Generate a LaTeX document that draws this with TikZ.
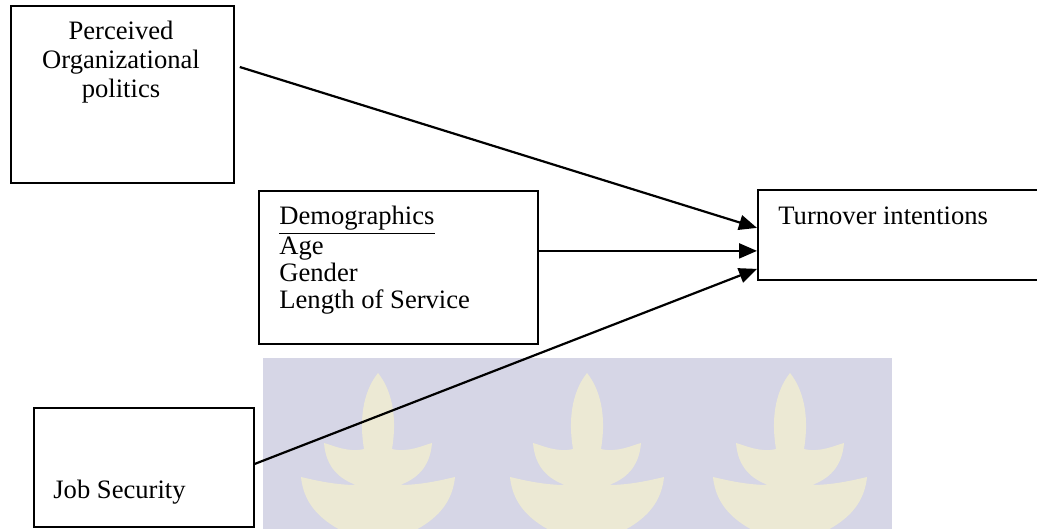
\documentclass[tikz,border=0pt]{standalone}
\usepackage{fontspec}
\setmainfont{Liberation Serif}
\usetikzlibrary{arrows.meta}
\definecolor{wmback}{RGB}{214,214,230}
\definecolor{wmleaf}{RGB}{236,233,212}
\begin{document}
\begin{tikzpicture}[x=0.5pt,y=-0.5pt,
  box/.style={draw, line width=0.9pt, inner sep=0, anchor=north west},
  lbl/.style={inner sep=0, font=\fontsize{13.3pt}{13.5pt}\selectfont, anchor=base west},
  link/.style={line width=1.1pt, -{Triangle[length=9pt,width=7.5pt]}},
  leaf/.style={fill=wmleaf}]
\useasboundingbox (0,0) rectangle (1037,529);
% watermark
\fill[wmback] (263,358) rectangle (892,529);
\foreach \cx in {378,587,790}{
  \fill[leaf, shift={(\cx,373)}] (0,0) .. controls (12,15) and (20,40) .. (14,76)
    .. controls (30,80) and (46,72) .. (54,70)
    .. controls (52,95) and (38,106) .. (22,112)
    .. controls (45,112) and (68,106) .. (77,104)
    .. controls (74,135) and (52,150) .. (32,160)
    -- (-32,160)
    .. controls (-52,150) and (-74,135) .. (-77,104)
    .. controls (-68,106) and (-45,112) .. (-22,112)
    .. controls (-38,106) and (-52,95) .. (-54,70)
    .. controls (-46,72) and (-30,80) .. (-14,76)
    .. controls (-20,40) and (-12,15) .. (0,0) -- cycle;
}
% boxes
\node[box, minimum width=111.5pt, minimum height=88.5pt] (pop) at (10,5) {};
\node[box, minimum width=139.5pt, minimum height=76.5pt] (demo) at (258,190) {};
\node[box, minimum width=141.5pt, minimum height=45pt] (ti) at (757,189) {};
\node[box, minimum width=110pt, minimum height=59.5pt] (js) at (33,407) {};
% texts (base anchor = last line)
\node[lbl, anchor=base, align=center, font=\fontsize{13.3pt}{14.5pt}\selectfont] (popt) at (121,98) {Perceived\\Organizational\\politics};
\node[lbl, align=left] (demot) at (279,308) {\underline{Demographics}\\Age\\Gender\\Length of Service};
\node[lbl] (tit) at (778,225) {Turnover intentions};
\node[lbl] (jst) at (53,498) {Job Security};
% connectors
\draw[link] ([shift={(5,62)}]pop.north east) -- ([shift={(0,-7)}]ti.west);
\draw[link] ([shift={(0,-16.5)}]demo.east) -- ([shift={(0,16)}]ti.west);
\draw[link] ([shift={(0,-3.5)}]js.east) -- ([shift={(0,34)}]ti.west);
\end{tikzpicture}
\end{document}
